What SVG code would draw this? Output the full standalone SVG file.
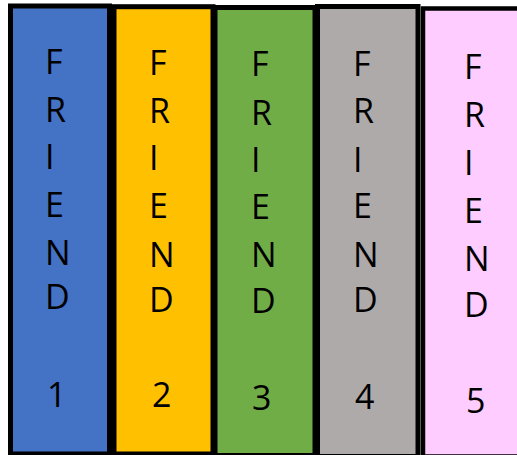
<svg xmlns="http://www.w3.org/2000/svg" width="517" height="455" viewBox="0 0 517 455">
<style>
.box{stroke:#000;stroke-width:5}
.t{font-family:"Open Sans","Liberation Sans",sans-serif;font-size:34px;fill:#000}
</style>
<rect width="517" height="455" fill="#fff"/>
<g id="friend1">
<rect class="box" x="10.5" y="6" width="99" height="448" fill="#4472C4"/>
<text class="t" x="45" y="74">F</text>
<text class="t" x="45" y="122">R</text>
<text class="t" x="45" y="169">I</text>
<text class="t" x="45" y="217">E</text>
<text class="t" x="45" y="265">N</text>
<text class="t" x="45" y="309">D</text>
<text class="t" x="47" y="407">1</text>
</g>
<g id="friend2">
<rect class="box" x="114" y="6.7" width="99" height="447.3" fill="#FFC000"/>
<text class="t" x="149" y="75">F</text>
<text class="t" x="149" y="123">R</text>
<text class="t" x="149" y="170">I</text>
<text class="t" x="149" y="218">E</text>
<text class="t" x="149" y="267">N</text>
<text class="t" x="149" y="312">D</text>
<text class="t" x="152" y="407">2</text>
</g>
<g id="friend3">
<rect class="box" x="215" y="7.5" width="100" height="448" fill="#70AD47"/>
<text class="t" x="251" y="76">F</text>
<text class="t" x="251" y="125">R</text>
<text class="t" x="251" y="172">I</text>
<text class="t" x="251" y="219">E</text>
<text class="t" x="251" y="267">N</text>
<text class="t" x="251" y="313">D</text>
<text class="t" x="252" y="410">3</text>
</g>
<g id="friend4">
<rect class="box" x="317.5" y="6.5" width="100.5" height="450" fill="#AEAAAA"/>
<text class="t" x="353" y="76">F</text>
<text class="t" x="353" y="123">R</text>
<text class="t" x="353" y="172">I</text>
<text class="t" x="353" y="218">E</text>
<text class="t" x="353" y="267">N</text>
<text class="t" x="353" y="312">D</text>
<text class="t" x="355" y="409">4</text>
</g>
<g id="friend5">
<rect class="box" x="423" y="8.5" width="100" height="448" fill="#FFCCFF" style="stroke-width:4.5"/>
<text class="t" x="464" y="79">F</text>
<text class="t" x="464" y="127">R</text>
<text class="t" x="464" y="175">I</text>
<text class="t" x="464" y="223">E</text>
<text class="t" x="464" y="271">N</text>
<text class="t" x="464" y="317">D</text>
<text class="t" x="466" y="413">5</text>
</g>
<g id="connectors"/>
</svg>
